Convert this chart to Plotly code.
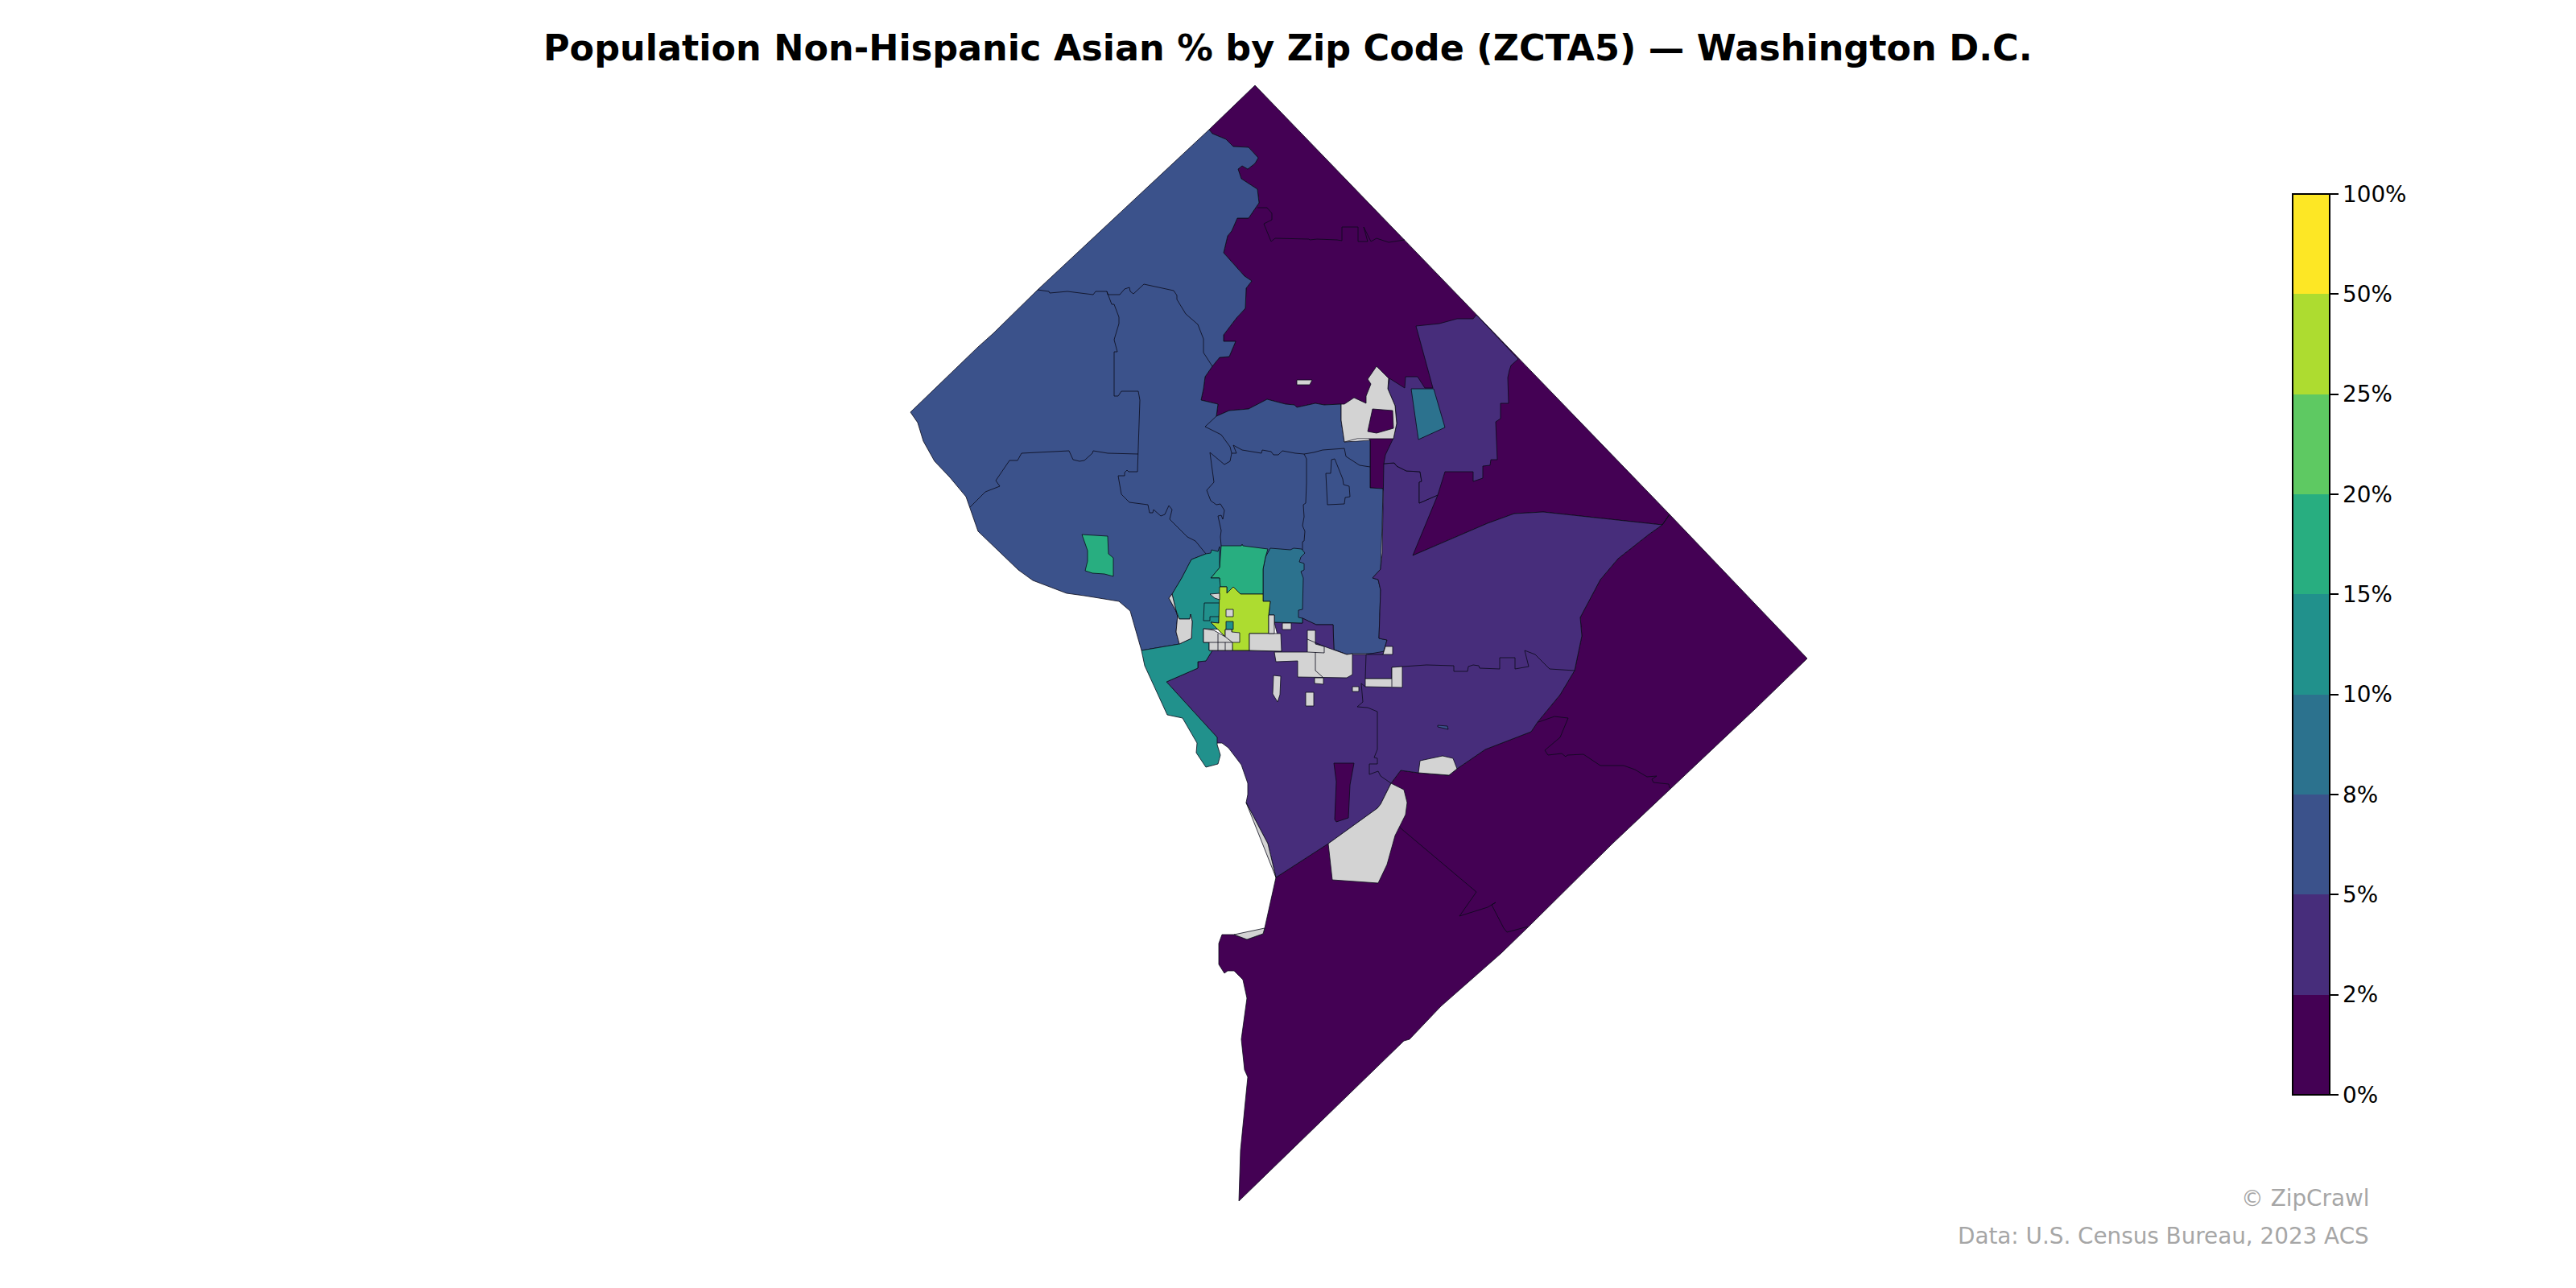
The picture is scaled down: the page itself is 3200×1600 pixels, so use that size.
import plotly.graph_objects as go

TITLE = "Population Non-Hispanic Asian % by Zip Code (ZCTA5) — Washington D.C."
CREDIT = "© ZipCrawl"
SOURCE = "Data: U.S. Census Bureau, 2023 ACS"

BIN_EDGES = [0, 2, 5, 8, 10, 15, 20, 25, 50, 100]
BIN_LABELS = ["0%", "2%", "5%", "8%", "10%", "15%", "20%", "25%", "50%", "100%"]
BIN_COLORS = ["#440154", "#472d7b", "#3b528b", "#2c728e", "#21918c",
              "#28ae80", "#5ec962", "#addc30", "#fde725"]
NO_DATA = "#d3d3d3"
EDGE = "rgba(10,10,25,0.8)"

# traced map geometry, in map units
NW_DARK_EDGE = [(1502,161),(1506,166),(1523,173),(1532,182),(1551,183),(1563,196),(1559,203),(1550,210),
    (1543,206),(1538,210),(1542,222),(1562,235),(1564,252),(1551,271),(1537,271),(1530,287),(1525,293),
    (1520,314),(1546,343),(1555,349),(1548,358),(1547,383),(1536,395),(1520,416),(1520,424),(1535,424),
    (1527,443),(1515,444),(1506,455),(1497,468),(1495,483),(1492,497),(1513,502),(1511,517),(1527,510),
    (1551,508),(1574,496),(1597,502),(1608,503),(1611,506),(1634,501),(1645,503),(1666,502)]
WEST_BLUE_REST = [(1666,522),(1670,549),(1702,547),(1702,606),(1718,607),(1717,650),(1715,707),(1705,718),
    (1712,720),(1715,733),(1713,793),(1723,795),(1718,812),(1680,812),(1673,813),(1657,807),(1656,776),
    (1635,776),(1618,768),(1583,773),(1498,688),(1480,695),(1468,718),(1456,738),(1452,743),(1463,763),
    (1461,785),(1465,800),(1418,808),(1404,759),(1390,747),(1347,740),(1325,737),(1283,721),(1265,708),
    (1215,660),(1205,630),(1200,617),(1180,593),(1161,573),(1147,548),(1140,525),(1131,512),(1215,431),
    (1234,414),(1289,360)]
NORTH_DARK_HEAD = [(1559,106),(2074,639),(2065,652),(1917,636),(1881,638),(1848,650),(1755,690),(1718,607),
    (1702,606),(1702,547),(1666,502)]
SOUTH_DARK = [(2074,639),(2245,818),(2181,880),(2003,1048),(1899,1151),(1865,1184),(1790,1250),(1751,1291),
    (1744,1293),(1539,1492),(1541,1429),(1550,1338),(1546,1329),(1542,1291),(1549,1240),(1544,1217),
    (1533,1206),(1525,1206),(1521,1209),(1514,1198),(1514,1172),(1518,1161),(1533,1161),(1549,1167),
    (1569,1160),(1571,1153),(1585,1090),(1650,1048),(1711,1004),(1715,999),(1728,973),(1740,957),(1762,960),
    (1800,963),(1810,955),(1845,931),(1902,909),(1910,897),(1938,863),(1956,833),(1965,790),(1963,767),
    (1988,720),(2010,694),(2048,664),(2065,652)]
SOUTH_PURPLE = [(1506,808),(1592,809),(1583,773),(1618,774),(1618,768),(1635,776),(1656,776),(1657,807),
    (1673,813),(1697,813),(1743,805),(1950,800),(1956,833),(1938,863),(1910,897),(1902,909),(1845,931),
    (1810,955),(1800,963),(1762,960),(1740,957),(1728,973),(1715,999),(1711,1004),(1650,1048),(1585,1090),
    (1575,1048),(1548,997),(1550,987),(1550,973),(1542,950),(1526,929),(1518,923),(1510,923),(1512,916),
    (1449,847),(1488,830),(1488,822),(1498,821)]
CENTRAL_PURPLE = [(1719,576),(1732,575),(1735,579),(1747,585),(1764,586),(1766,598),(1763,599),(1763,625),
    (1786,615),(1755,690),(1848,650),(1881,638),(1917,636),(2065,652),(2048,664),(2010,694),(1988,720),
    (1963,767),(1965,790),(1956,833),(1925,831),(1907,813),(1894,808),(1899,828),(1882,831),(1882,817),
    (1863,817),(1863,831),(1838,830),(1837,827),(1830,826),(1824,828),(1823,834),(1806,834),(1806,827),
    (1772,826),(1743,828),(1729,829),(1729,843),(1696,843),(1697,813),(1718,813),(1723,795),(1713,793),
    (1715,733),(1712,720),(1705,718),(1715,707),(1717,687),(1718,607)]
NE_PURPLE = [(1759,405),(1788,402),(1810,396),(1830,396),(1834,391),(1886,446),(1877,454),(1875,460),(1873,469),
    (1874,501),(1864,501),(1864,520),(1858,524),(1860,571),(1852,571),(1851,578),(1842,579),(1842,594),
    (1830,598),(1830,586),(1795,586),(1786,615),(1763,625),(1763,599),(1766,598),(1764,586),(1747,585),
    (1735,579),(1732,575),(1719,576),(1721,565),(1731,544),(1735,526),(1733,504),(1724,483),(1726,470),
    (1745,482),(1746,468),(1761,468),(1770,482),(1780,482)]
NE_TEAL = [(1753,483),(1781,483),(1795,531),(1762,546)]
WEST_GREEN = [(1344,664),(1376,666),(1377,688),(1383,693),(1383,716),(1372,713),(1357,712),(1348,709),(1351,697),(1351,684)]
SPECK_BLUE = [(1786,901),(1798,902),(1799,906),(1786,903)]
DARK_BAR = [(1657,948),(1682,948),(1677,975),(1675,1016),(1660,1021),(1658,1018),(1660,971)]
DARK_IN_GRAY = [(1705,508),(1730,510),(1731,532),(1710,538),(1699,536)]
MID_BLUE = [(1578,681),(1603,683),(1607,681),(1617,682),(1621,687),(1616,692),(1614,698),(1620,700),(1620,708),
    (1616,710),(1619,718),(1618,757),(1613,758),(1613,767),(1618,768),(1618,774),(1583,773),(1583,764),
    (1576,764),(1578,747),(1569,747),(1569,707),(1572,692)]
MID_GREEN = [(1517,678),(1542,678),(1543,676),(1544,678),(1575,682),(1572,692),(1569,707),(1569,738),(1541,738),
    (1532,729),(1524,737),(1524,729),(1515,729),(1515,718),(1504,718),(1515,705)]
MID_TEAL = [(1498,688),(1504,687),(1505,683),(1513,685),(1515,679),(1515,705),(1504,718),(1515,718),(1516,729),
    (1514,774),(1504,773),(1522,791),(1522,782),(1495,781),(1495,798),(1502,798),(1502,808),(1506,808),
    (1498,821),(1488,822),(1488,830),(1449,847),(1512,916),(1512,925),(1516,938),(1513,949),(1498,953),
    (1486,935),(1487,923),(1469,892),(1450,888),(1422,827),(1418,808),(1465,800),(1480,793),(1481,772),
    (1479,763),(1478,769),(1465,769),(1462,763),(1456,738),(1468,718),(1480,695)]
MID_LIME = [(1515,729),(1524,729),(1524,737),(1532,729),(1541,738),(1569,738),(1569,747),(1578,747),(1576,764),
    (1576,787),(1552,787),(1552,808),(1531,808),(1530,782),(1522,782),(1522,791),(1504,773),(1514,774)]
LIME_TEAL_SQUARE = [(1523,772),(1532,772),(1532,782),(1523,782)]

GRAY_PATCHES = [
    [(1666,502),(1670,502),(1682,494),(1697,501),(1697,492),(1701,483),(1703,477),(1699,471),(1710,455),(1725,470),
     (1724,483),(1733,504),(1735,526),(1731,545),(1686,545),(1670,549),(1666,522)],
    [(1611,472),(1630,472),(1627,478),(1611,478)],
    [(1650,1048),(1655,1093),(1712,1097),(1723,1074),(1733,1038),(1746,1012),(1748,997),(1744,981),(1728,973),(1715,999),(1711,1004)],
    [(1762,960),(1764,945),(1792,939),(1805,942),(1810,955),(1800,963)],
    [(1548,997),(1585,1090),(1575,1048)],
    [(1533,1161),(1571,1153),(1569,1160),(1549,1167)],
    [(1456,738),(1452,743),(1463,763),(1461,785),(1465,800),(1480,793),(1481,772),(1479,763),(1478,769),(1465,769),(1462,763)],
    [(1503,738),(1515,737),(1515,745),(1509,743)],
    [(1523,757),(1532,757),(1532,766),(1523,766)],
    [(1495,781),(1508,783),(1522,791),(1522,782),(1530,782),(1530,785),(1540,786),(1540,798),(1531,798),(1531,808),(1502,808),(1502,798),(1495,798)],
    [(1552,787),(1591,787),(1592,809),(1552,808)],
    [(1576,764),(1583,764),(1583,787),(1576,787)],
    [(1593,774),(1604,774),(1604,782),(1593,782)],
    [(1583,810),(1585,822),(1612,821),(1612,841),(1673,842),(1680,838),(1680,812),(1673,813),(1645,803),(1634,800),(1634,783),(1624,783),(1624,810)],
    [(1633,842),(1644,842),(1644,850),(1633,849)],
    [(1582,839),(1591,840),(1590,863),(1587,872),(1581,862)],
    [(1622,860),(1632,860),(1632,877),(1622,877)],
    [(1680,853),(1688,853),(1688,859),(1680,859)],
    [(1696,843),(1729,843),(1729,829),(1742,828),(1742,854),(1696,853)],
    [(1721,803),(1730,803),(1730,813),(1718,813)],
]

BOUNDARY_LINES = [
    [(1289,360),(1303,362),(1304,364),(1326,362),(1358,366),(1361,362),(1375,362),(1376,366),(1391,366),(1397,359),
     (1403,357),(1404,362),(1408,365),(1421,353),(1458,361),(1462,367),(1462,372),(1473,390),(1488,403),(1495,421),(1495,438),(1506,455)],
    [(1375,362),(1381,378),(1384,378),(1390,394),(1390,402),(1384,422),(1388,437),(1384,437),(1384,492),(1389,492),
     (1393,486),(1414,486),(1416,497),(1414,564),(1413,586),(1402,586),(1400,584),(1397,587),(1397,591),(1389,591),
     (1390,598),(1393,614),(1403,624),(1426,627),(1428,637),(1432,637),(1433,633),(1442,641),(1447,639),(1452,628),
     (1456,633),(1453,645),(1475,667),(1485,672),(1498,688)],
    [(1205,630),(1224,611),(1242,604),(1237,597),(1254,572),(1264,572),(1269,563),(1328,560),(1333,571),(1341,573),
     (1347,572),(1357,563),(1358,560),(1376,563),(1414,564)],
    [(1511,517),(1497,530),(1517,540),(1528,555),(1530,563),(1528,573),(1521,577),(1503,562),(1508,599),(1499,609),
     (1504,622),(1511,627),(1516,626),(1521,634),(1519,645),(1517,640),(1513,641),(1517,659),(1516,667),(1517,678)],
    [(1530,563),(1536,563),(1532,553),(1543,559),(1567,563),(1568,559),(1579,561),(1582,565),(1588,565),(1593,560),
     (1609,563),(1620,564),(1632,562),(1643,559),(1670,557),(1672,567),(1689,578),(1702,580)],
    [(1620,564),(1623,570),(1623,600),(1622,625),(1619,627),(1620,642),(1618,653),(1621,660),(1620,672),(1618,673),(1618,683)],
    [(1647,588),(1653,588),(1654,571),(1658,570),(1668,595),(1669,602),(1676,604),(1677,617),(1671,618),(1670,626),(1649,627),(1647,588)],
    [(1562,258),(1574,258),(1580,265),(1580,273),(1570,278),(1579,300),(1584,296),(1626,297),(1627,298),(1636,297),
     (1661,298),(1667,299),(1667,282),(1687,282),(1687,300),(1699,300),(1694,282),(1703,300),(1710,296),(1725,301),(1745,298)],
    [(1739,1028),(1834,1108),(1813,1138),(1848,1127),(1858,1121),(1853,1124),(1868,1153),(1872,1158),(1898,1151)],
    [(1911,897),(1931,890),(1948,892),(1938,916),(1919,932),(1923,938),(1940,936),(1945,940),(1947,938),(1967,937),
     (1988,951),(2017,951),(2031,956),(2046,965),(2058,964),(2052,968),(2054,972),(2073,974),(2074,979)],
    [(1696,853),(1691,849),(1693,872),(1686,878),(1699,879),(1711,884),(1711,931),(1707,941),(1711,942),(1711,949),
     (1701,949),(1701,962),(1712,958),(1715,964),(1728,973)],
    [(1496,749),(1515,749)],
    [(1496,749),(1495,771),(1503,771),(1503,766),(1514,766)],
    [(1513,787),(1513,808)],
    [(1502,798),(1531,798)],
    [(1522,791),(1531,798)],
    [(1522,798),(1522,808)],
    [(1624,794),(1645,803),(1645,811),(1624,810)],
    [(1634,810),(1634,833),(1643,841)],
    [(1729,843),(1729,853)],
    [(2065,652),(2074,639)],
]

# (geometry, estimated percent); None means no data
ZONES = [
    (NORTH_DARK_HEAD + NW_DARK_EDGE[::-1], 1.4),
    (SOUTH_DARK, 1.4),
    (NW_DARK_EDGE + WEST_BLUE_REST, 6.5),
    (SOUTH_PURPLE, 3.5),
    (CENTRAL_PURPLE, 3.5),
    (NE_PURPLE, 3.5),
    (NE_TEAL, 9.0),
    (WEST_GREEN, 17.0),
    (SPECK_BLUE, 6.5),
    (DARK_BAR, 1.4),
    (MID_BLUE, 9.0),
    (MID_GREEN, 17.0),
    (MID_TEAL, 12.0),
    (MID_LIME, 35.0),
    (LIME_TEAL_SQUARE, 12.0),
] + [(g, None) for g in GRAY_PATCHES] + [(DARK_IN_GRAY, 1.4)]


def color_for(v):
    if v is None:
        return NO_DATA
    for i in range(len(BIN_COLORS)):
        if BIN_EDGES[i] <= v < BIN_EDGES[i + 1]:
            return BIN_COLORS[i]
    return BIN_COLORS[-1]


fig = go.Figure()
for geom, value in ZONES:
    xs = [p[0] for p in geom] + [geom[0][0]]
    ys = [p[1] for p in geom] + [geom[0][1]]
    fig.add_trace(go.Scatter(x=xs, y=ys, mode="lines", fill="toself", fillcolor=color_for(value),
                             line=dict(color=EDGE, width=1.0), hoverinfo="skip", showlegend=False))
for line in BOUNDARY_LINES:
    fig.add_trace(go.Scatter(x=[p[0] for p in line], y=[p[1] for p in line], mode="lines",
                             line=dict(color=EDGE, width=1.0), hoverinfo="skip", showlegend=False))

n = len(BIN_COLORS)
scale = []
for i, c in enumerate(BIN_COLORS):
    scale += [[i / n, c], [(i + 1) / n, c]]
fig.add_trace(go.Scatter(
    x=[-500], y=[-500], mode="markers", showlegend=False, hoverinfo="skip",
    marker=dict(color=[0], cmin=0, cmax=n, colorscale=scale, showscale=True, size=1,
                colorbar=dict(thickness=46, thicknessmode="pixels", len=1119, lenmode="pixels",
                              x=2848 / 3200, xanchor="left", xref="paper", xpad=0,
                              y=1 - 241 / 1600, yanchor="top", yref="paper", ypad=0,
                              tickmode="array", tickvals=list(range(n + 1)), ticktext=BIN_LABELS,
                              ticks="outside", ticklen=10, tickwidth=2, tickcolor="black",
                              outlinewidth=2, outlinecolor="black",
                              tickfont=dict(family="DejaVu Sans", size=27.8, color="black"))),
))

fig.update_layout(
    width=3200, height=1600, margin=dict(l=0, r=0, t=0, b=0),
    paper_bgcolor="white", plot_bgcolor="white",
    xaxis=dict(range=[0, 3200], visible=False, fixedrange=True),
    yaxis=dict(range=[1600, 0], visible=False, fixedrange=True),
    annotations=[
        dict(text=TITLE, x=1600, y=59, xref="x", yref="y", xanchor="center", yanchor="middle", showarrow=False,
             font=dict(family="DejaVu Sans", size=44.5, color="black", weight="bold")),
        dict(text=CREDIT, x=2945, y=1488, xref="x", yref="y", xanchor="right", yanchor="middle", showarrow=False,
             font=dict(family="DejaVu Sans", size=27.8, color="#a6a6a6")),
        dict(text=SOURCE, x=2945, y=1535, xref="x", yref="y", xanchor="right", yanchor="middle", showarrow=False,
             font=dict(family="DejaVu Sans", size=27.8, color="#a6a6a6")),
    ],
)
fig.write_html("out.html", config={"displayModeBar": False},
               post_script="document.body.style.margin='0';document.body.style.overflow='hidden';")
